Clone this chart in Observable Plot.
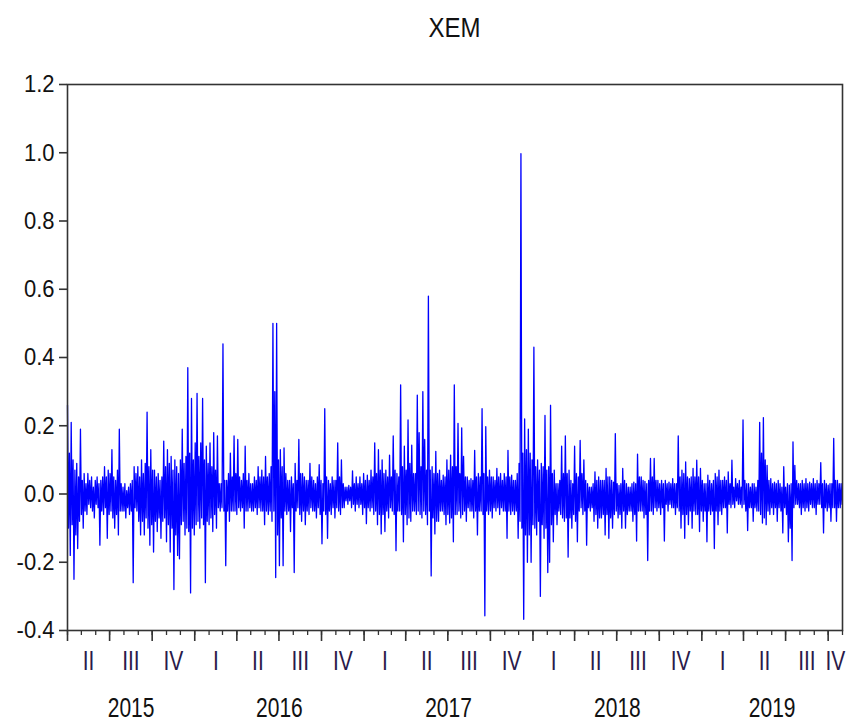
<!DOCTYPE html>
<html>
<head>
<meta charset="utf-8">
<script src="https://cdn.jsdelivr.net/npm/d3@7"></script>
<script src="https://cdn.jsdelivr.net/npm/@observablehq/plot@0.6"></script>
<style>
  html, body { margin: 0; padding: 0; background: #fff; }
  #wrap { width: 854px; height: 723px; position: relative; overflow: hidden; }
  #title { height: 56px; line-height: 56px; padding-left: 67px; padding-right: 12px; text-align: center;
           font-family: "Liberation Sans", Arial, sans-serif; font-size: 24px; color: #111; }
  #title span { display: inline-block; transform: scaleY(1.15); }
  svg { display: block; }
</style>
</head>
<body>
<div id="wrap">
  <div id="title"><span>XEM</span></div>
  <div id="chart"></div>
</div>
<script>
// ---- data (XEM daily log returns, one reading every 2 days) ----
const seriesName = "XEM";
const seriesStart = "2015-04-01";
const seriesEnd = "2019-11-01";
const stepDays = 2;
const returns = [
  0.26,-0.10, 0.12,-0.18, 0.21,-0.09, 0.10,-0.25, 0.07,-0.12, 0.09,-0.16, 0.05,-0.08, 0.19,-0.06, 0.04,-0.10, 0.06,-0.05,
  0.03,-0.06, 0.06,-0.03, 0.04,-0.04, 0.05,-0.05, 0.02,-0.07, 0.04,-0.03, 0.05,-0.04, 0.03,-0.15, 0.04,-0.05, 0.05,-0.06,
  0.08,-0.04, 0.05,-0.13, 0.07,-0.06, 0.06,-0.05, 0.13,-0.07, 0.05,-0.10, 0.04,-0.06, 0.07,-0.12, 0.19,-0.05, 0.03,-0.05,
  0.02,-0.05, 0.03,-0.07, 0.01,-0.04, 0.02,-0.06, 0.03,-0.05, 0.04,-0.26, 0.08,-0.04, 0.06,-0.05, 0.08,-0.08, 0.05,-0.12,
  0.10,-0.08, 0.06,-0.12, 0.09,-0.07, 0.24,-0.10, 0.08,-0.15, 0.13,-0.09, 0.07,-0.17, 0.07,-0.08, 0.05,-0.11, 0.06,-0.07,
  0.04,-0.13, 0.05,-0.08, 0.155,-0.07, 0.08,-0.14, 0.13,-0.09, 0.09,-0.17, 0.11,-0.10, 0.07,-0.28, 0.10,-0.12, 0.08,-0.18,
  0.06,-0.19, 0.10,-0.09, 0.19,-0.08, 0.09,-0.12, 0.11,-0.10, 0.37,-0.11, 0.12,-0.29, 0.28,-0.10, 0.10,-0.12, 0.15,-0.09,
  0.295,-0.08, 0.11,-0.10, 0.15,-0.07, 0.28,-0.09, 0.10,-0.26, 0.14,-0.08, 0.09,-0.09, 0.15,-0.07, 0.08,-0.11, 0.18,-0.06,
  0.07,-0.10, 0.17,-0.04, 0.03,-0.05, 0.03,-0.04, 0.44,-0.05, 0.04,-0.21, 0.04,-0.05, 0.06,-0.08, 0.12,-0.05, 0.05,-0.05,
  0.17,-0.05, 0.06,-0.06, 0.16,-0.04, 0.05,-0.05, 0.04,-0.04, 0.06,-0.10, 0.14,-0.05, 0.04,-0.05, 0.06,-0.04, 0.03,-0.05,
  0.03,-0.05, 0.05,-0.04, 0.04,-0.06, 0.08,-0.04, 0.05,-0.05, 0.07,-0.05, 0.05,-0.09, 0.11,-0.05, 0.05,-0.06, 0.06,-0.05,
  0.08,-0.08, 0.50,-0.05, 0.30,-0.245, 0.50,-0.12, 0.10,-0.21, 0.13,-0.07, 0.08,-0.21, 0.135,-0.05, 0.06,-0.06, 0.04,-0.05,
  0.04,-0.11, 0.05,-0.04, 0.03,-0.23, 0.09,-0.05, 0.04,-0.04, 0.16,-0.06, 0.06,-0.08, 0.06,-0.05, 0.05,-0.09, 0.04,-0.05,
  0.04,-0.06, 0.09,-0.04, 0.05,-0.05, 0.04,-0.05, 0.03,-0.07, 0.05,-0.04, 0.086,-0.06, 0.04,-0.146, 0.03,-0.05, 0.25,-0.06,
  0.05,-0.13, 0.04,-0.05, 0.03,-0.06, 0.05,-0.04, 0.04,-0.07, 0.04,-0.04, 0.15,-0.05, 0.05,-0.06, 0.10,-0.04, 0.03,-0.04,
  0.02,-0.02, 0.02,-0.03, 0.025,-0.02, 0.02,-0.04, 0.068,-0.03, 0.03,-0.05, 0.05,-0.03, 0.03,-0.04, 0.05,-0.03, 0.03,-0.06,
  0.06,-0.04, 0.04,-0.087, 0.055,-0.04, 0.04,-0.05, 0.07,-0.04, 0.05,-0.06, 0.15,-0.05, 0.06,-0.09, 0.13,-0.06, 0.07,-0.117,
  0.10,-0.06, 0.06,-0.11, 0.07,-0.05, 0.05,-0.07, 0.114,-0.04, 0.05,-0.05, 0.17,-0.06, 0.07,-0.166, 0.06,-0.05, 0.05,-0.05,
  0.32,-0.06, 0.08,-0.14, 0.14,-0.06, 0.07,-0.09, 0.217,-0.07, 0.09,-0.08, 0.143,-0.05, 0.06,-0.05, 0.06,-0.06, 0.29,-0.05,
  0.18,-0.06, 0.08,-0.07, 0.30,-0.05, 0.16,-0.06, 0.07,-0.09, 0.58,-0.05, 0.07,-0.24, 0.08,-0.07, 0.06,-0.117, 0.125,-0.08,
  0.06,-0.08, 0.07,-0.05, 0.04,-0.05, 0.055,-0.06, 0.05,-0.09, 0.10,-0.06, 0.07,-0.085, 0.114,-0.07, 0.08,-0.14, 0.32,-0.06,
  0.08,-0.06, 0.207,-0.05, 0.06,-0.07, 0.194,-0.06, 0.11,-0.05, 0.05,-0.08, 0.05,-0.04, 0.04,-0.05, 0.045,-0.05, 0.04,-0.07,
  0.128,-0.05, 0.05,-0.12, 0.06,-0.05, 0.05,-0.05, 0.25,-0.06, 0.06,-0.357, 0.197,-0.05, 0.05,-0.06, 0.07,-0.05, 0.05,-0.07,
  0.05,-0.04, 0.04,-0.05, 0.075,-0.04, 0.05,-0.06, 0.06,-0.04, 0.04,-0.05, 0.06,-0.05, 0.05,-0.13, 0.128,-0.05, 0.05,-0.06,
  0.055,-0.05, 0.04,-0.06, 0.04,-0.05, 0.06,-0.13, 0.09,-0.08, 0.997,-0.10, 0.12,-0.367, 0.22,-0.12, 0.13,-0.20, 0.19,-0.12,
  0.12,-0.20, 0.10,-0.09, 0.43,-0.10, 0.08,-0.12, 0.10,-0.08, 0.07,-0.30, 0.09,-0.09, 0.08,-0.13, 0.23,-0.10, 0.07,-0.23,
  0.08,-0.20, 0.26,-0.09, 0.06,-0.14, 0.07,-0.06, 0.03,-0.09, 0.03,-0.05, 0.04,-0.06, 0.14,-0.07, 0.06,-0.08, 0.17,-0.07,
  0.06,-0.185, 0.07,-0.07, 0.04,-0.10, 0.03,-0.06, 0.14,-0.08, 0.06,-0.14, 0.05,-0.05, 0.157,-0.04, 0.06,-0.06, 0.10,-0.05,
  0.04,-0.15, 0.03,-0.04, 0.02,-0.05, 0.02,-0.04, 0.03,-0.08, 0.065,-0.06, 0.04,-0.10, 0.05,-0.07, 0.04,-0.07, 0.04,-0.06,
  0.04,-0.12, 0.075,-0.06, 0.05,-0.13, 0.05,-0.07, 0.04,-0.10, 0.035,-0.06, 0.177,-0.05, 0.03,-0.07, 0.025,-0.06, 0.03,-0.10,
  0.075,-0.05, 0.04,-0.10, 0.03,-0.06, 0.02,-0.05, 0.02,-0.05, 0.03,-0.08, 0.035,-0.06, 0.03,-0.138, 0.117,-0.05, 0.05,-0.05,
  0.05,-0.05, 0.04,-0.07, 0.037,-0.06, 0.03,-0.195, 0.04,-0.05, 0.104,-0.05, 0.05,-0.06, 0.104,-0.04, 0.04,-0.05, 0.04,-0.04,
  0.03,-0.06, 0.04,-0.04, 0.03,-0.138, 0.04,-0.03, 0.03,-0.05, 0.035,-0.03, 0.03,-0.04, 0.045,-0.04, 0.03,-0.06, 0.03,-0.04,
  0.17,-0.05, 0.05,-0.10, 0.07,-0.06, 0.06,-0.13, 0.094,-0.06, 0.05,-0.09, 0.045,-0.05, 0.05,-0.10, 0.075,-0.05, 0.05,-0.06,
  0.099,-0.06, 0.05,-0.11, 0.075,-0.05, 0.04,-0.08, 0.03,-0.05, 0.03,-0.14, 0.055,-0.05, 0.04,-0.06, 0.03,-0.05, 0.04,-0.16,
  0.06,-0.05, 0.05,-0.09, 0.07,-0.05, 0.04,-0.06, 0.04,-0.04, 0.05,-0.04, 0.04,-0.114, 0.065,-0.03, 0.03,-0.04, 0.099,-0.03,
  0.02,-0.04, 0.045,-0.02, 0.03,-0.03, 0.04,-0.03, 0.02,-0.04, 0.217,-0.03, 0.04,-0.05, 0.03,-0.107, 0.03,-0.04, 0.02,-0.04,
  0.03,-0.08, 0.03,-0.04, 0.02,-0.05, 0.04,-0.05, 0.21,-0.06, 0.12,-0.085, 0.224,-0.07, 0.10,-0.09, 0.084,-0.05, 0.04,-0.06,
  0.045,-0.04, 0.03,-0.06, 0.035,-0.04, 0.03,-0.08, 0.04,-0.04, 0.03,-0.05, 0.02,-0.114, 0.08,-0.04, 0.02,-0.06, 0.03,-0.14,
  0.026,-0.10, 0.03,-0.195, 0.153,-0.04, 0.084,-0.03, 0.04,-0.03, 0.03,-0.04, 0.03,-0.06, 0.04,-0.04, 0.03,-0.05, 0.045,-0.04,
  0.03,-0.05, 0.035,-0.03, 0.03,-0.04, 0.045,-0.04, 0.03,-0.06, 0.04,-0.03, 0.03,-0.03, 0.092,-0.04, 0.03,-0.114, 0.04,-0.04,
  0.03,-0.05, 0.026,-0.04, 0.03,-0.08, 0.03,-0.04, 0.163,-0.04, 0.04,-0.08, 0.04,-0.04, 0.03,-0.04, 0.03,-0.03
];
const yTicks = [-0.4, -0.2, 0.0, 0.2, 0.4, 0.6, 0.8, 1.0, 1.2];
const quarterLabels = ["I", "II", "III", "IV"];
const yearLabels = ["2015", "2016", "2017", "2018", "2019"];

// ---- derived tables ----
const start = new Date(seriesStart + "T00:00:00Z");
const end = new Date(seriesEnd + "T00:00:00Z");
const data = returns.map((v, i) => ({date: d3.utcDay.offset(start, i * stepDays), value: v}));

const monthTicks = d3.utcMonth.range(start, d3.utcDay.offset(end, 1));
const quarterTicks = d3.utcMonth.every(3).range(start, d3.utcDay.offset(end, 1));
const quarterMids = quarterTicks.map(q => {
  const a = Math.max(+q, +start), b = Math.min(+d3.utcMonth.offset(q, 3), +end);
  return {date: new Date((a + b) / 2), label: quarterLabels[q.getUTCMonth() / 3]};
}).filter(d => d.date < end);
const yearMids = yearLabels.map(y => {
  const ys = new Date(y + "-01-01T00:00:00Z"), ye = new Date((+y + 1) + "-01-01T00:00:00Z");
  const a = Math.max(+ys, +start), b = Math.min(+ye, +end);
  return {date: new Date((a + b) / 2), label: y};
});
const qLabelMap = new Map(quarterMids.map(d => [+d.date, d.label]));
const yLabelMap = new Map(yearMids.map(d => [+d.date, d.label]));

const axisColor = "#333";
const font = "'Liberation Sans', Arial, sans-serif";

const chart = Plot.plot({
  width: 854,
  height: 667,
  marginLeft: 67,
  marginRight: 12,
  marginTop: 28,
  marginBottom: 93,
  style: {fontFamily: font, fontSize: "20px", color: "#111", background: "#fff"},
  x: {type: "utc", domain: [start, end]},
  y: {domain: [-0.4, 1.2]},
  marks: [
    Plot.lineY(data, {x: "date", y: "value", stroke: "#0000ff", strokeWidth: 1.3}),
    Plot.frame({stroke: axisColor, strokeWidth: 1.6}),
    Plot.axisY({ticks: yTicks, tickSize: 8, tickPadding: 5, stroke: axisColor, strokeWidth: 1.6,
                tickFormat: d => d.toFixed(1), fontSize: 22, fill: "#111", label: null}),
    Plot.axisX({ticks: monthTicks, tickSize: 5, stroke: axisColor, strokeWidth: 1.3,
                tickFormat: () => "", label: null}),
    Plot.axisX({ticks: quarterTicks, tickSize: 11, stroke: axisColor, strokeWidth: 1.6,
                tickFormat: () => "", label: null}),
    Plot.axisX({ticks: quarterMids.map(d => d.date), tickSize: 0, tickPadding: 20,
                tickFormat: d => qLabelMap.get(+d), fontSize: 21, fill: "#2a1a4a", label: null}),
    Plot.axisX({ticks: yearMids.map(d => d.date), tickSize: 0, tickPadding: 67,
                tickFormat: d => yLabelMap.get(+d), fontSize: 21, fill: "#111", label: null})
  ]
});

// stretch the tick labels vertically like the original export
chart.querySelectorAll('g[aria-label="y-axis tick label"] text').forEach(t => {
  t.setAttribute("transform", (t.getAttribute("transform") || "") + " scale(1,1.1)");
});
chart.querySelectorAll('g[aria-label="x-axis tick label"] text').forEach(t => {
  t.setAttribute("transform", (t.getAttribute("transform") || "") + " scale(1,1.3)");
});
document.getElementById("chart").appendChild(chart);
</script>
</body>
</html>
